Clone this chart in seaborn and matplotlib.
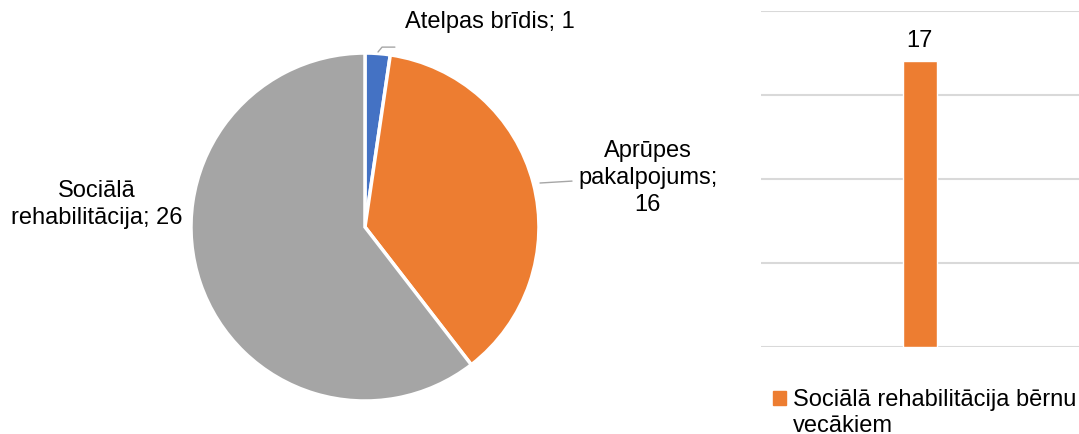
import seaborn as sns
import matplotlib.pyplot as plt
import pandas as pd
from matplotlib.patches import Patch, Rectangle
from matplotlib.legend_handler import HandlerPatch

# pie data
pie_labels = ["Atelpas brīdis", "Aprūpes\npakalpojums", "Sociālā\nrehabilitācija"]
pie_values = [1, 16, 26]
pie_colors = ["#4472C4", "#ED7D31", "#A5A5A5"]

# bar data
bar_cats = ["Sociālā rehabilitācija bērnu vecākiem"]
bar_values = [17]
bar_color = "#ED7D31"

sns.set_theme(style="white")
plt.rcParams['font.family'] = ['Liberation Sans', 'DejaVu Sans']
plt.rcParams['text.color'] = "#000000"
fs = 17

fig = plt.figure(figsize=(10.79, 4.34), dpi=100)

# Pie chart
ax1 = fig.add_axes([0.177, 0.076, 0.3225, 0.8018])
ax1.pie(pie_values, colors=pie_colors, startangle=90, counterclock=False,
        wedgeprops=dict(edgecolor="white", linewidth=2.5))
ax1.set_xlim(-1, 1)
ax1.set_ylim(-1, 1)
ax1.set_aspect("equal")

ax1.text(0.23, 1.178, f"{pie_labels[0]}; {pie_values[0]}", fontsize=fs,
         ha="left", va="center")
ax1.text(1.626, 0.282, f"{pie_labels[1]};\n{pie_values[1]}", fontsize=fs,
         ha="center", va="center", linespacing=1.3)
ax1.text(-1.54, 0.132, f"{pie_labels[2]}; {pie_values[2]}", fontsize=fs,
         ha="center", va="center", linespacing=1.3)

# leader lines
ax1.plot([0.075, 0.098, 0.172], [1.006, 1.034, 1.034], color="#A6A6A6", lw=1, clip_on=False)
ax1.plot([1.006, 1.19], [0.253, 0.264], color="#A6A6A6", lw=1, clip_on=False)

# Bar chart
ax2 = fig.add_axes([0.705, 0.2005, 0.295, 0.774])
df = pd.DataFrame({"cat": bar_cats, "val": bar_values})
sns.barplot(data=df, x="cat", y="val", color=bar_color, saturation=1,
            width=0.107, ax=ax2)
ax2.set_ylim(0, 20)
ax2.set_xlim(-0.5, 0.5)
ax2.set_yticks([0, 5, 10, 15, 20])
ax2.yaxis.grid(True, color="#D9D9D9", lw=1.5)
ax2.set_axisbelow(True)
ax2.tick_params(left=False, bottom=False, labelleft=False, labelbottom=False)
for s in ax2.spines.values():
    s.set_visible(False)
ax2.set_xlabel("")
ax2.set_ylabel("")
ax2.bar_label(ax2.containers[0], fontsize=fs, padding=7, color="#000000")


# legend square next to the first line of the wrapped label
def top_square(legend, orig_handle, xdescent, ydescent, width, height, fontsize):
    return Rectangle((-xdescent, -ydescent + 10.8), width, height)


fig.legend(handles=[Patch(color=bar_color, label="Sociālā rehabilitācija bērnu\nvecākiem")],
           handler_map={Patch: HandlerPatch(patch_func=top_square)},
           loc="upper left", bbox_to_anchor=(0.716, 0.103), frameon=False,
           fontsize=fs, handlelength=0.55, handleheight=0.55, handletextpad=0.3,
           borderpad=0, borderaxespad=0, labelspacing=0, labelcolor="#000000")

fig.savefig("out.png", dpi=100)
